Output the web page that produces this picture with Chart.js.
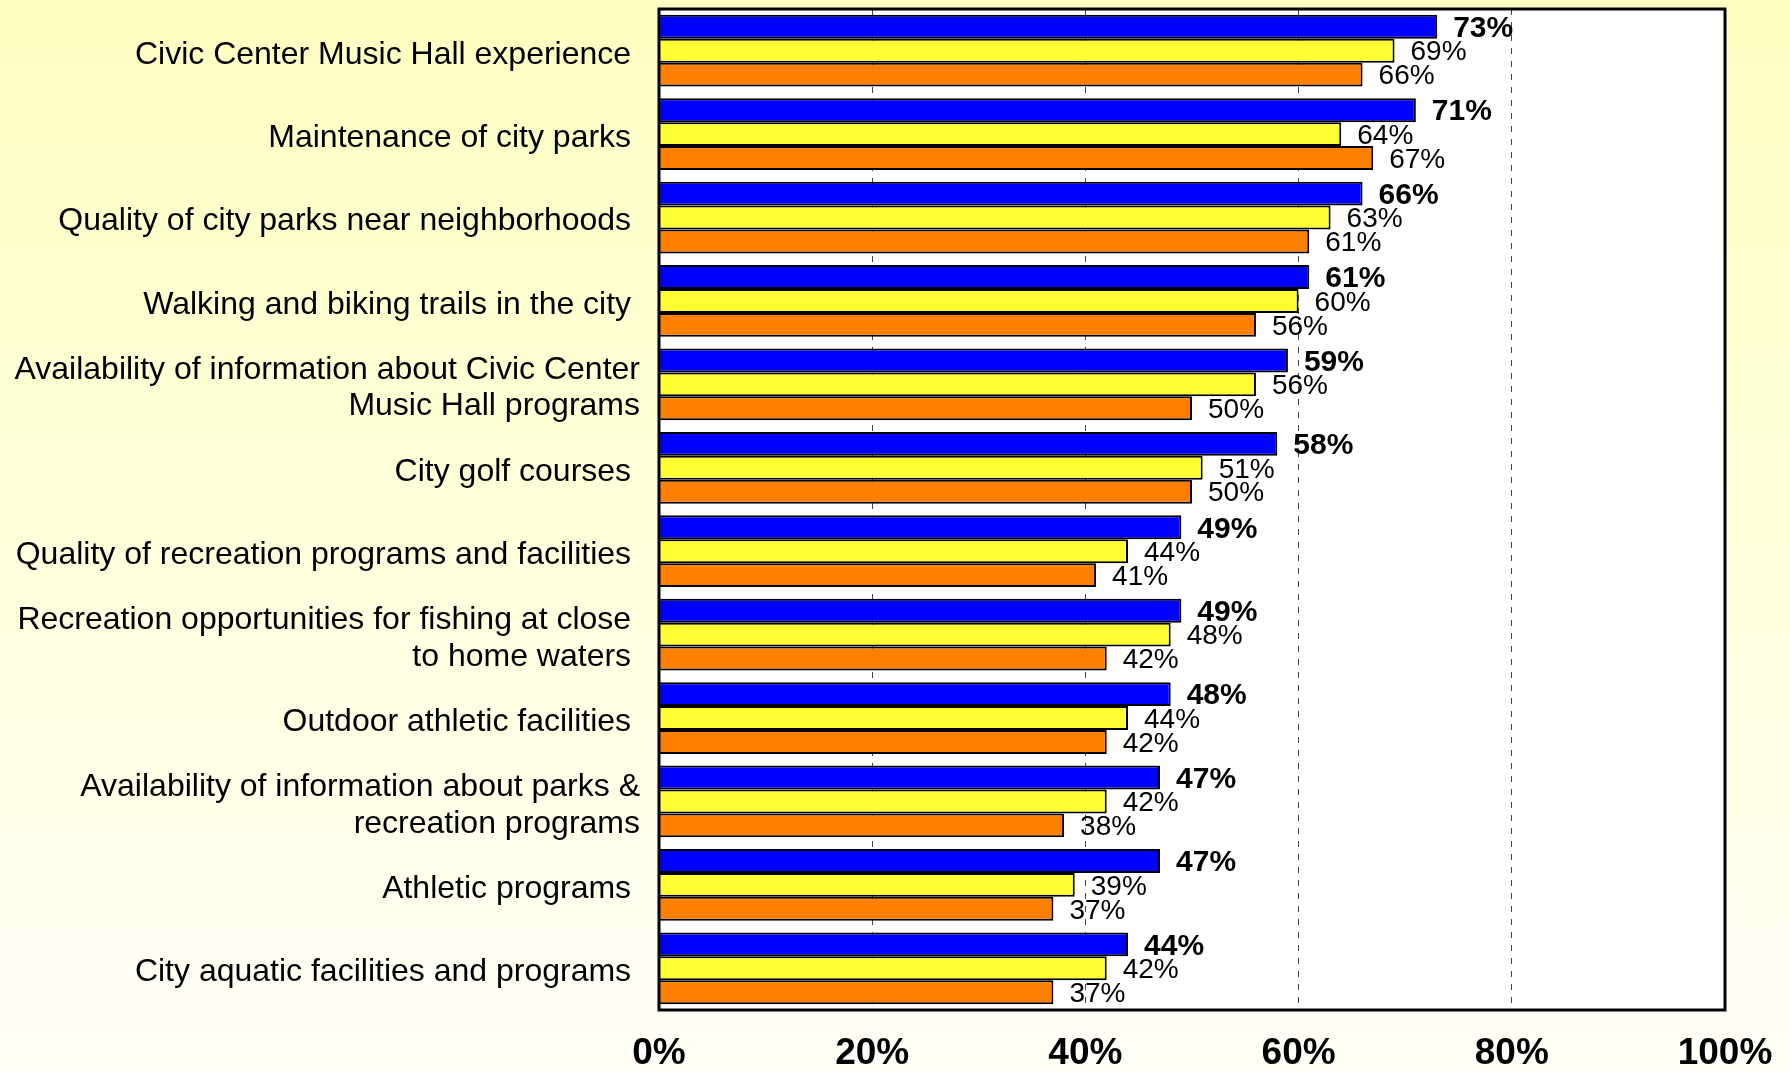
<!DOCTYPE html>
<html>
<head>
<meta charset="utf-8">
<script src="https://cdn.jsdelivr.net/npm/chart.js@4/dist/chart.umd.min.js"></script>
<style>
html,body{margin:0;padding:0;background:#fff;}
#wrap{width:1790px;height:1071px;}
</style>
</head>
<body>
<div id="wrap"><canvas id="c" width="1790" height="1071"></canvas></div>
<script>
const categories = [
  "Civic Center Music Hall experience ",
  "Maintenance of city parks ",
  "Quality of city parks near neighborhoods ",
  "Walking and biking trails in the city ",
  ["Availability of information about Civic Center", "Music Hall programs"],
  "City golf courses ",
  "Quality of recreation programs and facilities ",
  ["Recreation opportunities for fishing at close ", "to home waters "],
  "Outdoor athletic facilities ",
  ["Availability of information about parks &", "recreation programs"],
  "Athletic programs ",
  "City aquatic facilities and programs "
];
const seriesBlue   = [73, 71, 66, 61, 59, 58, 49, 49, 48, 47, 47, 44];
const seriesYellow = [69, 64, 63, 60, 56, 51, 44, 48, 44, 42, 39, 42];
const seriesOrange = [66, 67, 61, 56, 50, 50, 41, 42, 42, 38, 37, 37];
const xTicks = [0, 20, 40, 60, 80, 100];

const FONT = "'Liberation Sans', Arial, Helvetica, sans-serif";

const bgPlugin = {
  id: 'bg',
  beforeDraw(chart) {
    const {ctx, width, height, chartArea} = chart;
    ctx.save();
    const g = ctx.createLinearGradient(0, 0, 0, height);
    g.addColorStop(0, '#FFFFC2');
    g.addColorStop(1, '#FFFFF6');
    ctx.fillStyle = g;
    ctx.fillRect(0, 0, width, height);
    ctx.fillStyle = '#FFFFFF';
    ctx.fillRect(chartArea.left, chartArea.top, chartArea.right - chartArea.left, chartArea.bottom - chartArea.top);
    ctx.restore();
  },
  afterDraw(chart) {
    const {ctx, chartArea} = chart;
    ctx.save();
    ctx.strokeStyle = '#000';
    ctx.lineWidth = 3;
    ctx.strokeRect(chartArea.left, chartArea.top, chartArea.right - chartArea.left, chartArea.bottom - chartArea.top);
    ctx.restore();
  }
};

const labelPlugin = {
  id: 'vlabels',
  afterDatasetsDraw(chart) {
    const {ctx} = chart;
    ctx.save();
    chart.data.datasets.forEach((ds, di) => {
      const meta = chart.getDatasetMeta(di);
      meta.data.forEach((el, i) => {
        ctx.font = (di === 0 ? 'bold 30px ' : '28px ') + FONT;
        ctx.fillStyle = '#000';
        ctx.textAlign = 'left';
        ctx.textBaseline = 'middle';
        ctx.fillText(ds.data[i] + '%', el.x + 16, el.y + 2);
      });
    });
    ctx.restore();
  }
};

new Chart(document.getElementById('c'), {
  type: 'bar',
  data: {
    labels: categories,
    datasets: [
      {data: seriesBlue, backgroundColor: '#0000FF', borderColor: '#000', borderWidth: 2},
      {data: seriesYellow, backgroundColor: '#FFFF33', borderColor: '#000', borderWidth: 2},
      {data: seriesOrange, backgroundColor: '#FF8000', borderColor: '#000', borderWidth: 2}
    ]
  },
  options: {
    indexAxis: 'y',
    responsive: false,
    animation: false,
    devicePixelRatio: 1,
    layout: {padding: {top: 9, right: 65, bottom: 0, left: 0}},
    datasets: {bar: {categoryPercentage: 0.86, barPercentage: 1.0}},
    plugins: {legend: {display: false}, tooltip: {enabled: false}},
    scales: {
      x: {
        min: 0, max: 100,
        afterBuildTicks(scale) { scale.ticks = xTicks.map(v => ({value: v})); },
        afterFit(scale) { scale.height = 61; scale.paddingLeft = 0; scale.paddingRight = 0; },
        ticks: {
          callback: v => v + '%',
          font: {family: FONT, size: 37, weight: 'bold'},
          color: '#000',
          padding: 22,
          maxRotation: 0
        },
        grid: {color: '#444', lineWidth: 1, drawTicks: false},
        border: {display: false, dash: [6, 7]}
      },
      y: {
        afterFit(scale) { scale.width = 659; scale.paddingTop = 0; scale.paddingBottom = 0; },
        ticks: {
          font: {family: FONT, size: 32, lineHeight: 1.14},
          color: '#000',
          padding: 19,
          labelOffset: 4,
          autoSkip: false
        },
        grid: {display: false, drawTicks: false},
        border: {display: false}
      }
    }
  },
  plugins: [bgPlugin, labelPlugin]
});
</script>
</body>
</html>
